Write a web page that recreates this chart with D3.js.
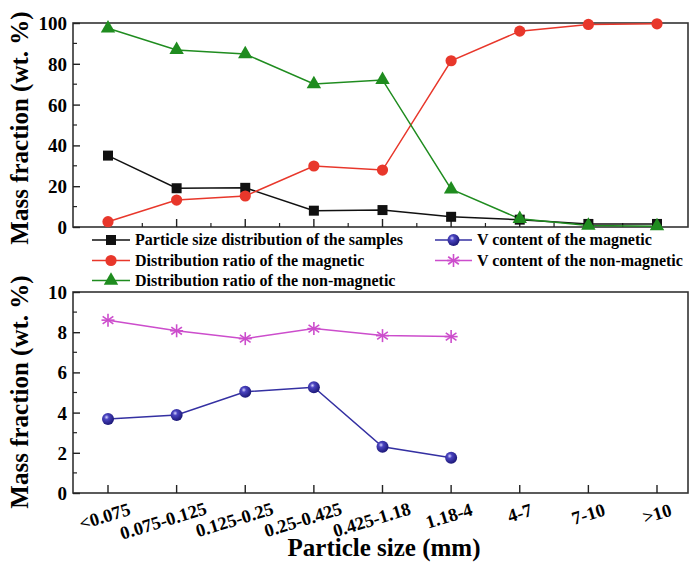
<!DOCTYPE html>
<html>
<head>
<meta charset="utf-8">
<script src="https://cdn.jsdelivr.net/npm/d3@7/dist/d3.min.js"></script>
<style>
  html, body { margin: 0; padding: 0; background: #fff; }
  svg { display: block; }
  text { font-family: "Liberation Serif", "Times New Roman", serif; font-weight: bold; fill: #000; }
</style>
</head>
<body>
<svg id="chart" width="689" height="566"></svg>
<script>
// Particle size classes (mm)
const categories = ["<0.075", "0.075-0.125", "0.125-0.25", "0.25-0.425", "0.425-1.18", "1.18-4", "4-7", "7-10", ">10"];

// Upper panel, wt. %
const sizeDistribution = [35.0, 19.0, 19.2, 8.0, 8.3, 5.0, 3.6, 1.5, 1.5];
const magneticRatio    = [2.6, 13.2, 15.2, 29.9, 27.9, 81.5, 96.0, 99.3, 99.6];
const nonMagneticRatio = [97.4, 86.8, 84.8, 70.1, 72.1, 18.5, 4.0, 0.7, 0.4];

// Lower panel, wt. % (first six size classes)
const vMagnetic    = [3.68, 3.88, 5.04, 5.26, 2.30, 1.75];
const vNonMagnetic = [8.60, 8.07, 7.68, 8.18, 7.83, 7.78];

const topTicks = [0, 20, 40, 60, 80, 100];
const bottomTicks = [0, 2, 4, 6, 8, 10];

const legendLabels = {
  size: "Particle size distribution of the samples",
  mag: "Distribution ratio of the magnetic",
  nonmag: "Distribution ratio of the non-magnetic",
  vmag: "V content of the magnetic",
  vnonmag: "V content of the non-magnetic"
};

const colors = {
  black: "#111111",
  red: "#e8372b",
  green: "#1f8c1f",
  navy: "#3430a2",
  magenta: "#cc4dcc"
};

const svg = d3.select("#chart");
const left = 73, right = 688;

const x = d3.scalePoint().domain(categories).range([108, 657]);
const step = x.step();

const yTop = d3.scaleLinear().domain([0, 100]).range([227, 23]);
const yBot = d3.scaleLinear().domain([0, 10]).range([493, 292]);

// shaded sphere for the V-content markers
const defs = svg.append("defs");
const grad = defs.append("radialGradient").attr("id", "sphere")
  .attr("cx", "38%").attr("cy", "35%").attr("r", "65%");
grad.append("stop").attr("offset", "0%").attr("stop-color", "#d8d6ff");
grad.append("stop").attr("offset", "30%").attr("stop-color", "#4a44c0");
grad.append("stop").attr("offset", "100%").attr("stop-color", "#1c1878");

function frame(y, top) {
  const g = svg.append("g");
  g.append("rect")
    .attr("x", left).attr("y", top)
    .attr("width", right - left).attr("height", y.range()[0] - top)
    .attr("fill", "none").attr("stroke", "#333").attr("stroke-width", 1.6);
  return g;
}

function yAxis(y, ticks, minorStep) {
  const g = svg.append("g").attr("transform", `translate(${left},0)`);
  const axis = d3.axisLeft(y).tickValues(ticks).tickSize(-7).tickPadding(12).tickFormat(d3.format("d"));
  g.call(axis);
  g.select(".domain").remove();
  g.selectAll(".tick line").attr("stroke", "#222").attr("stroke-width", 1.4);
  g.selectAll(".tick text").style("font-size", "19px").attr("dy", "0.34em").attr("x", -6);
  const [d0, d1] = y.domain();
  const minors = d3.range(d0 + minorStep, d1, minorStep * 2);
  g.selectAll(".minor").data(minors).join("line")
    .attr("x1", 0).attr("x2", 4)
    .attr("y1", d => y(d)).attr("y2", d => y(d))
    .attr("stroke", "#222").attr("stroke-width", 1.2);
}

function xTicks(y, withMinor) {
  const base = y.range()[0];
  const g = svg.append("g");
  g.selectAll(".maj").data(categories).join("line")
    .attr("x1", d => x(d)).attr("x2", d => x(d))
    .attr("y1", base).attr("y2", base - 8)
    .attr("stroke", "#222").attr("stroke-width", 1.4);
  if (withMinor) {
    const mids = categories.map(d => x(d) - step / 2).concat([x(categories[categories.length - 1]) + step / 2])
      .filter(v => v > left + 1 && v < right - 1);
    g.selectAll(".min").data(mids).join("line")
      .attr("x1", d => d).attr("x2", d => d)
      .attr("y1", base).attr("y2", base - 4)
      .attr("stroke", "#222").attr("stroke-width", 1.2);
  }
}

function series(y, values, color) {
  const pts = values.map((v, i) => [x(categories[i]), y(v)]);
  svg.append("path")
    .attr("d", d3.line()(pts))
    .attr("fill", "none").attr("stroke", color).attr("stroke-width", 1.5);
  return pts;
}

function drawMarker(g, kind, cx, cy) {
  if (kind === "square") {
    g.append("path").attr("d", d3.symbol(d3.symbolSquare, 100)())
      .attr("transform", `translate(${cx},${cy})`).attr("fill", colors.black);
  } else if (kind === "circle") {
    g.append("circle").attr("cx", cx).attr("cy", cy).attr("r", 5.6).attr("fill", colors.red);
  } else if (kind === "triangle") {
    g.append("path").attr("d", d3.symbol(d3.symbolTriangle, 90)())
      .attr("transform", `translate(${cx},${cy})`).attr("fill", colors.green);
  } else if (kind === "sphere") {
    g.append("circle").attr("cx", cx).attr("cy", cy).attr("r", 6).attr("fill", "url(#sphere)");
  } else if (kind === "star") {
    const r = 6.5;
    const s = g.append("g").attr("transform", `translate(${cx},${cy})`)
      .attr("stroke", colors.magenta).attr("stroke-width", 1.6);
    [90, 35, -35, 0].forEach(a => {
      const t = a * Math.PI / 180;
      s.append("line")
        .attr("x1", -r * Math.cos(t)).attr("y1", -r * Math.sin(t))
        .attr("x2", r * Math.cos(t)).attr("y2", r * Math.sin(t));
    });
  }
}

function markers(pts, kind) {
  const g = svg.append("g");
  pts.forEach(([cx, cy]) => drawMarker(g, kind, cx, cy));
}

// ---- upper panel ----
frame(yTop, 23);
yAxis(yTop, topTicks, 10);
xTicks(yTop, true);
const pSize = series(yTop, sizeDistribution, colors.black);
const pMag = series(yTop, magneticRatio, colors.red);
const pNon = series(yTop, nonMagneticRatio, colors.green);
markers(pSize, "square");
markers(pMag, "circle");
markers(pNon, "triangle");

// ---- lower panel ----
frame(yBot, 292);
yAxis(yBot, bottomTicks, 1);
xTicks(yBot, false);
const pVNon = series(yBot, vNonMagnetic, colors.magenta);
const pVMag = series(yBot, vMagnetic, colors.navy);
markers(pVNon, "star");
markers(pVMag, "sphere");

// ---- legend ----
function legendItem(x0, x1, yy, color, kind, label) {
  const g = svg.append("g");
  g.append("line").attr("x1", x0).attr("x2", x1).attr("y1", yy).attr("y2", yy)
    .attr("stroke", color).attr("stroke-width", 1.6);
  drawMarker(g, kind, (x0 + x1) / 2, yy);
  g.append("text").attr("x", x1 + 5).attr("y", yy).attr("dy", "0.34em")
    .style("font-size", "16px").text(label);
}
legendItem(92, 130, 240, colors.black, "square", legendLabels.size);
legendItem(92, 130, 260.5, colors.red, "circle", legendLabels.mag);
legendItem(92, 130, 280.5, colors.green, "triangle", legendLabels.nonmag);
legendItem(435, 472, 240, colors.navy, "sphere", legendLabels.vmag);
legendItem(435, 472, 260.5, colors.magenta, "star", legendLabels.vnonmag);

// ---- category labels, tilted ----
const lbl = svg.append("g").selectAll("text").data(categories).join("text")
  .attr("text-anchor", "middle")
  .style("font-size", "18.5px")
  .text(d => d);
lbl.each(function (d) {
  const L = this.getComputedTextLength();
  const dx = -Math.max(0, L - 40) * 0.27;
  const cx = x(d) + dx;
  const cy = 510 + 0.12 * L;
  d3.select(this).attr("transform", `translate(${cx},${cy}) rotate(-17)`).attr("dy", "0.34em");
});

// ---- axis titles ----
svg.append("text").attr("x", 384).attr("y", 556).attr("text-anchor", "middle")
  .style("font-size", "25px").text("Particle size (mm)");
[[128, "Mass fraction (wt. %)"], [392, "Mass fraction (wt. %)"]].forEach(([cy, t]) => {
  svg.append("text").attr("transform", `translate(28,${cy}) rotate(-90)`)
    .attr("text-anchor", "middle").style("font-size", "25px").text(t);
});
</script>
</body>
</html>
